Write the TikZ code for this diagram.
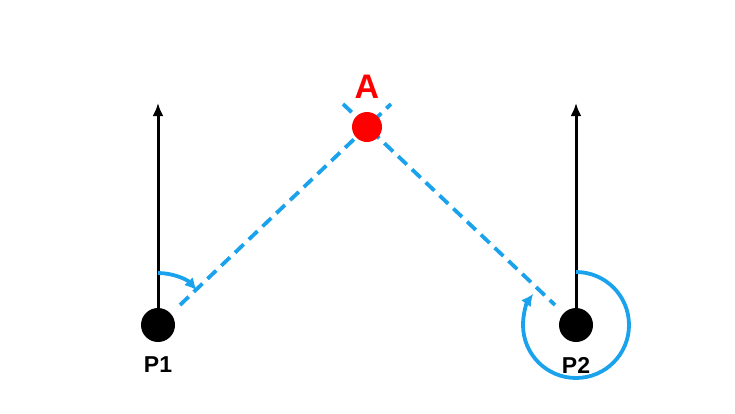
\documentclass[tikz,border=0pt]{standalone}
\usepackage{fontspec}
\setmainfont{Liberation Sans}
\usetikzlibrary{arrows.meta}
\definecolor{sky}{HTML}{1AA3EC}
\definecolor{redA}{HTML}{FF0000}
\begin{document}
\begin{tikzpicture}[x=1pt,y=-1pt,
  dot/.style={circle,fill=black,inner sep=0pt,minimum size=34pt},
  vec/.style={line width=3pt,-{Latex[length=13pt,width=11pt]}},
  dsh/.style={sky,line width=3.8pt,dash pattern=on 12pt off 7pt},
  ang/.style={sky,line width=3.8pt,-{Latex[length=12pt,width=12pt]}},
  lab/.style={font=\bfseries\fontsize{23}{23}\selectfont}]
\useasboundingbox (0,0) rectangle (735,413);
\coordinate (p1c) at (158,325);
\coordinate (p2c) at (576,325);
\coordinate (t1) at (158,103);
\coordinate (t2) at (576,103);
\coordinate (d1s) at (180,305);
\coordinate (d1e) at (391,104);
\coordinate (d2s) at (343,104);
\coordinate (d2e) at (555,305);
\draw[dsh] (d1s) -- (d1e);
\draw[dsh] (d2s) -- (d2e);
\draw[vec] (p1c) -- (t1);
\draw[vec] (p2c) -- (t2);
\draw[ang] ([shift={(0,-52)}]p1c) arc[start angle=-90,end angle=-42,radius=52];
\draw[ang] ([shift={(0,-53)}]p2c) arc[start angle=-90,end angle=216,radius=53];
\node[dot] (p1) at (p1c) {};
\node[dot] (p2) at (p2c) {};
\node[circle,fill=redA,inner sep=0pt,minimum size=30pt] (a) at (367,127) {};
\node[lab] (l1) at (158,365) {P1};
\node[lab] (l2) at (576,365) {P2};
\node[font=\bfseries\fontsize{34}{34}\selectfont,text=redA] (la) at (367,87) {A};
\end{tikzpicture}
\end{document}
